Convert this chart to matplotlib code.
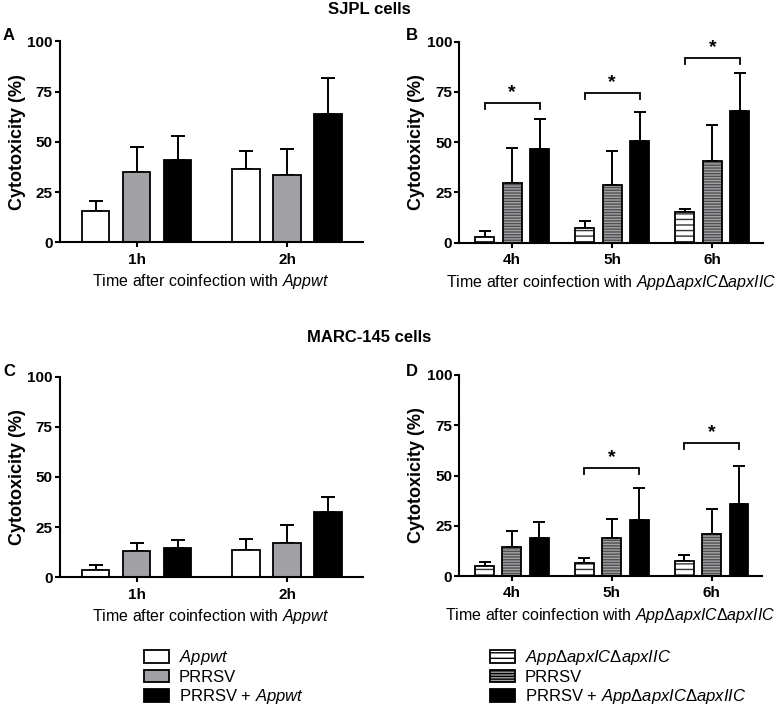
import matplotlib
matplotlib.use('Agg')
import numpy as np
import matplotlib.pyplot as plt
from matplotlib.patches import Patch

plt.rcParams['font.family'] = ['Liberation Sans', 'DejaVu Sans']
plt.rcParams['mathtext.fontset'] = 'custom'
plt.rcParams['mathtext.rm'] = 'Liberation Sans'
plt.rcParams['mathtext.it'] = 'Liberation Sans:italic'
plt.rcParams['mathtext.bf'] = 'Liberation Sans:bold'
plt.rcParams['hatch.linewidth'] = 1.0

# ---- data ----
groups_wt = ['1h', '2h']
groups_mut = ['4h', '5h', '6h']

# SJPL cells, Appwt
A_app = [15.4, 36.3]
A_app_err = [5.0, 9.3]
A_prrsv = [34.8, 33.3]
A_prrsv_err = [12.6, 13.0]
A_co = [40.8, 63.7]
A_co_err = [11.9, 18.2]

# SJPL cells, AppΔapxICΔapxIIC
B_app = [3.0, 7.1, 15.1]
B_app_err = [2.8, 3.8, 1.6]
B_prrsv = [29.9, 28.9, 40.6]
B_prrsv_err = [17.4, 16.5, 17.8]
B_co = [46.6, 50.7, 65.5]
B_co_err = [15.1, 14.5, 18.7]
B_sig = [(0, 69.7), (1, 74.3), (2, 91.7)]

# MARC-145 cells, Appwt
C_app = [3.7, 13.8]
C_app_err = [2.3, 5.3]
C_prrsv = [13.1, 17.1]
C_prrsv_err = [4.2, 9.0]
C_co = [14.8, 32.7]
C_co_err = [3.8, 7.2]

# MARC-145 cells, AppΔapxICΔapxIIC
D_app = [5.1, 6.3, 7.5]
D_app_err = [1.9, 2.7, 2.9]
D_prrsv = [14.6, 18.7, 20.9]
D_prrsv_err = [7.8, 9.5, 12.6]
D_co = [18.7, 27.9, 35.7]
D_co_err = [8.0, 16.0, 19.2]
D_sig = [(1, 53.6), (2, 66.0)]

MUT = r'$\mathit{App\Delta apxIC\Delta apxIIC}$'
WT = r'$\mathit{Appwt}$'
GRAY = '#a2a2a6'

W, H = 783, 710
fig = plt.figure(figsize=(W / 100, H / 100), dpi=100)


def rect(l, r, t, b):
    return [l / W, 1 - b / H, (r - l) / W, (b - t) / H]


def style_axes(ax, groups, gap, xlim, xlabel):
    for s in ['top', 'right']:
        ax.spines[s].set_visible(False)
    for s in ['left', 'bottom']:
        ax.spines[s].set_linewidth(1.5)
    ax.set_ylim(0, 100)
    ax.set_xlim(*xlim)
    ax.set_yticks([0, 25, 50, 75, 100])
    ax.set_xticks(np.arange(len(groups)) * gap)
    ax.set_xticklabels(groups, fontweight='bold')
    for lab in ax.get_yticklabels():
        lab.set_fontweight('bold')
    ax.tick_params(axis='both', labelsize=11, width=1.5, length=3.5)
    ax.tick_params(axis='x', pad=4)
    ax.tick_params(axis='y', pad=1.5)
    ax.set_ylabel('Cytotoxicity (%)', fontsize=13, fontweight='bold', labelpad=1)
    ax.set_xlabel(xlabel, fontsize=11.5, labelpad=4)


def draw_bars(ax, gap, width, series, hatched):
    n = len(series[0][0])
    for i, (vals, errs) in enumerate(series):
        x = np.arange(n) * gap + (i - 1)
        if i == 0:
            fc = 'white'
            hatch = '---' if hatched else None
            hc = '#333333'
        elif i == 1:
            fc = GRAY
            hatch = '------' if hatched else None
            hc = '#505050'
        else:
            fc = 'black'
            hatch = None
            hc = 'black'
        ax.errorbar(x, vals, yerr=[np.zeros(n), errs], fmt='none', ecolor='black',
                    elinewidth=1.4, capsize=4 if hatched else 5, capthick=1.4, zorder=1)
        if hatch:
            ax.bar(x, vals, width, color=fc, edgecolor=hc, hatch=hatch, linewidth=0, zorder=2)
            ax.bar(x, vals, width, fill=False, edgecolor='black', linewidth=1.3, zorder=3)
        else:
            ax.bar(x, vals, width, color=fc, edgecolor='black', linewidth=1.3, zorder=2)


def draw_sig(ax, gap, sig):
    for g, y in sig:
        x0 = g * gap - 1
        x1 = g * gap + 1
        ax.plot([x0, x0, x1, x1], [y - 3, y, y, y - 3], color='black', lw=1.3,
                solid_joinstyle='miter', clip_on=False)
        ax.text(g * gap, y + 1.0, '*', ha='center', va='bottom', fontsize=14,
                fontweight='bold')


gap_wt, w_wt, xl_wt = 3.67, 0.67, (-1.88, 5.51)
gap_mut, w_mut, xl_mut = 3.64, 0.69, (-1.93, 9.12)

axA = fig.add_axes(rect(59.5, 362.7, 41.5, 242.3))
draw_bars(axA, gap_wt, w_wt, [(A_app, A_app_err), (A_prrsv, A_prrsv_err), (A_co, A_co_err)], False)
style_axes(axA, groups_wt, gap_wt, xl_wt, 'Time after coinfection with ' + WT)

axB = fig.add_axes(rect(459, 763, 41.7, 242.7))
draw_bars(axB, gap_mut, w_mut, [(B_app, B_app_err), (B_prrsv, B_prrsv_err), (B_co, B_co_err)], True)
style_axes(axB, groups_mut, gap_mut, xl_mut, 'Time after coinfection with ' + MUT)
draw_sig(axB, gap_mut, B_sig)

axC = fig.add_axes(rect(59.5, 362.7, 376.7, 577.3))
draw_bars(axC, gap_wt, w_wt, [(C_app, C_app_err), (C_prrsv, C_prrsv_err), (C_co, C_co_err)], False)
style_axes(axC, groups_wt, gap_wt, xl_wt, 'Time after coinfection with ' + WT)

axD = fig.add_axes(rect(459, 762, 375, 576))
draw_bars(axD, gap_mut, w_mut, [(D_app, D_app_err), (D_prrsv, D_prrsv_err), (D_co, D_co_err)], True)
style_axes(axD, groups_mut, gap_mut, xl_mut, 'Time after coinfection with ' + MUT)
draw_sig(axD, gap_mut, D_sig)

# titles and panel letters
fig.text(369 / W, 1 - 10 / H, 'SJPL cells', ha='center', va='center', fontsize=12, fontweight='bold')
fig.text(369 / W, 1 - 337 / H, 'MARC-145 cells', ha='center', va='center', fontsize=12, fontweight='bold')
for lab, x, y in [('A', 9, 35), ('B', 412, 35), ('C', 9, 372), ('D', 412, 371)]:
    fig.text(x / W, 1 - y / H, lab, ha='center', va='center', fontsize=12, fontweight='bold')

# legends
leg_kw = dict(loc='upper left', frameon=False, fontsize=12, handlelength=1.5,
              handleheight=0.8, handletextpad=0.6, labelspacing=0.16,
              borderpad=0, borderaxespad=0)
h_wt = [Patch(facecolor='white', edgecolor='black', linewidth=1.3),
        Patch(facecolor=GRAY, edgecolor='black', linewidth=1.3),
        Patch(facecolor='black', edgecolor='black', linewidth=1.3)]
fig.legend(h_wt, [WT, 'PRRSV', 'PRRSV + ' + WT], bbox_to_anchor=(144 / W, 1 - 648 / H), **leg_kw)

h_mut = [Patch(facecolor='white', edgecolor='black', linewidth=1.3, hatch='---'),
         Patch(facecolor=GRAY, edgecolor='black', linewidth=1.3, hatch='------'),
         Patch(facecolor='black', edgecolor='black', linewidth=1.3)]
fig.legend(h_mut, [MUT, 'PRRSV', 'PRRSV + ' + MUT], bbox_to_anchor=(490 / W, 1 - 648 / H), **leg_kw)

fig.savefig('out.png', dpi=100)
